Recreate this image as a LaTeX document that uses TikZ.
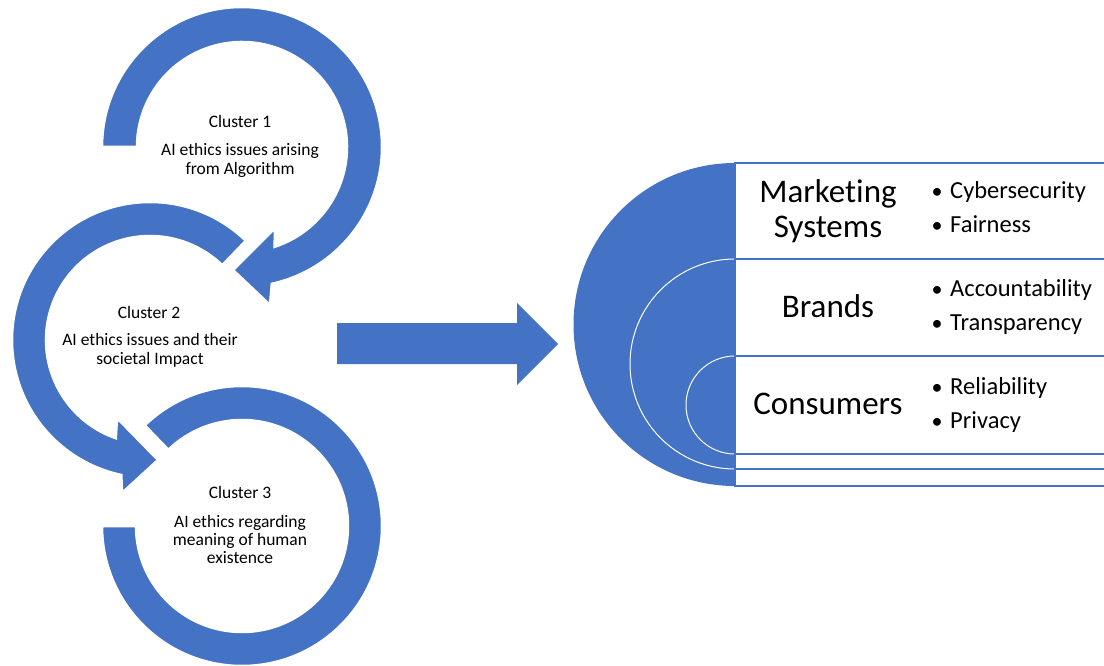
\documentclass[tikz,border=0pt]{standalone}
\usepackage{fontspec}
\setmainfont{Carlito}[Ligatures={NoCommon}]
\usetikzlibrary{calc}
\definecolor{oblue}{HTML}{4472C4}
\begin{document}
\begin{tikzpicture}[x=1pt,y=-1pt,
  ring/.style={fill=oblue, draw=white, line width=2.5pt, line join=miter},
  ctext/.style={font=\fontsize{17.5}{19}\selectfont, anchor=base, inner sep=0pt},
  lbl/.style={font=\fontsize{33}{36}\selectfont, anchor=base, inner sep=0pt},
  item/.style={font=\fontsize{24.5}{28}\selectfont, anchor=base west, inner sep=0pt},
  bul/.style={font=\fontsize{22}{28}\selectfont, anchor=base, inner sep=0pt},
  rowbox/.style={draw=oblue, line width=1.5pt},
  divider/.style={draw=white, line width=1pt}]
\useasboundingbox (0,0) rectangle (1104,666);

% ---------- circular arrows ----------
\coordinate (c3) at (242,526);
\coordinate (c2) at (150,340);
\coordinate (c1) at (242,147);

% Cluster 3 ring (no head)
\path[ring] ($(c3)+(-134:140)$) arc[start angle=-134, end angle=180, radius=140]
  -- ($(c3)+(180:106)$) arc[start angle=180, end angle=-134, radius=106] -- cycle;

% Cluster 2 ring with head
\path[ring] ($(c2)+(-46:138)$) arc[start angle=-46, end angle=-258, radius=138]
  -- (122,493) -- (158,460) -- (117,418)
  -- ($(c2)+(-250.8:104)$) arc[start angle=-250.8, end angle=-46, radius=104] -- cycle;

% Cluster 1 ring with head
\path[ring] ($(c1)+(-180:140)$) arc[start angle=-180, end angle=77.7, radius=140]
  -- (270,305) -- (233,270) -- (275,228)
  -- ($(c1)+(71.9:105)$) arc[start angle=71.9, end angle=-180, radius=105] -- cycle;

% cluster texts
\node[ctext] (k1) at (240,128) {Cluster 1};
\node[ctext] (k1a) at (240,156) {AI ethics issues arising};
\node[ctext] (k1b) at (240,175) {from Algorithm};

\node[ctext] (k2) at (149,318) {Cluster 2};
\node[ctext] (k2a) at (150,345) {AI ethics issues and their};
\node[ctext] (k2b) at (150,364) {societal Impact};

\node[ctext] (k3) at (240,498) {Cluster 3};
\node[ctext] (k3a) at (240,527) {AI ethics regarding};
\node[ctext] (k3b) at (240,545) {meaning of human};
\node[ctext] (k3c) at (240,563) {existence};

% ---------- block arrow ----------
\path[fill=oblue] (337,323) -- (517,323) -- (517,303) -- (558,344) -- (517,385)
  -- (517,364) -- (337,364) -- cycle;

% ---------- right: nested semicircles ----------
\fill[oblue] (735,163) arc[start angle=-90, end angle=-270, radius=161.5] -- cycle;
\path[divider] (735,259) arc[start angle=-90, end angle=-270, radius=105];
\path[divider] (735,356) arc[start angle=-90, end angle=-270, radius=49];

% rows
\path[rowbox] (735,163) rectangle (1112,259);
\path[rowbox] (735,259) rectangle (1112,356);
\path[rowbox] (735,356) rectangle (1112,454);
\path[rowbox] (735,454) rectangle (1112,469);
\path[rowbox] (735,469) rectangle (1112,486);

% labels
\node[lbl] (ms1) at (828,203) {Marketing};
\node[lbl] (ms2) at (828,237) {Systems};
\node[lbl] (br) at (828,317) {Brands};
\node[lbl] (co) at (828,414) {Consumers};

% bullets
\node[bul] (b1) at (937,199) {\textbullet};
\node[item] (i1) at (950,199) {Cybersecurity};
\node[bul] (b2) at (937,233) {\textbullet};
\node[item] (i2) at (950,233) {Fairness};
\node[bul] (b3) at (937,296) {\textbullet};
\node[item] (i3) at (950,296) {Accountability};
\node[bul] (b4) at (937,330) {\textbullet};
\node[item] (i4) at (950,330) {Transparency};
\node[bul] (b5) at (937,394) {\textbullet};
\node[item] (i5) at (950,394) {Reliability};
\node[bul] (b6) at (937,428) {\textbullet};
\node[item] (i6) at (950,428) {Privacy};
\end{tikzpicture}
\end{document}
